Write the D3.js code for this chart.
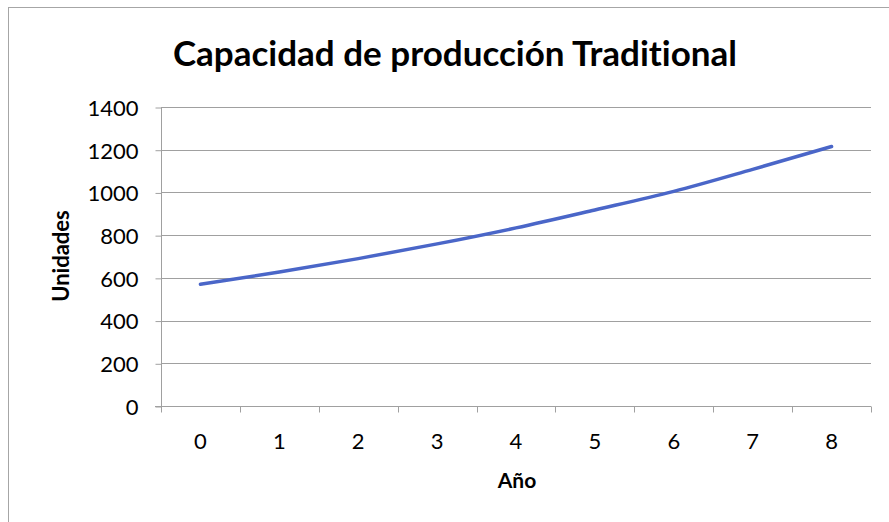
<!DOCTYPE html>
<html>
<head>
<meta charset="utf-8">
<script src="https://cdn.jsdelivr.net/npm/d3@7"></script>
<style>
  body { margin: 0; background: #fff; }
  text { font-family: Lato, "Open Sans", sans-serif; fill: #000; font-variant-ligatures: none; }
</style>
</head>
<body>
<div id="chart"></div>
<script>
const years = [0, 1, 2, 3, 4, 5, 6, 7, 8]
const units = [570, 627, 690, 759, 834, 918, 1005, 1108, 1215]
const yTicks = [0, 200, 400, 600, 800, 1000, 1200, 1400]
const title = "Capacidad de producción Traditional"
const xTitle = "Año"
const yTitle = "Unidades"

const width = 889, height = 522
const m = {top: 107, right: 18, bottom: 116, left: 161}

const svg = d3.select("#chart").append("svg")
  .attr("width", width)
  .attr("height", height)

// chart area frame
svg.append("rect")
  .attr("x", 8.5).attr("y", 7.5)
  .attr("width", 900).attr("height", 600)
  .attr("fill", "#fff")
  .attr("stroke", "#a6a6a6")

const x = d3.scaleBand()
  .domain(years)
  .range([m.left, width - m.right])

const y = d3.scaleLinear()
  .domain([0, 1400])
  .range([height - m.bottom, m.top])

// gridlines
svg.append("g")
  .selectAll("line")
  .data(yTicks)
  .join("line")
  .attr("x1", m.left).attr("x2", width - m.right)
  .attr("y1", d => Math.round(y(d)) + 0.5)
  .attr("y2", d => Math.round(y(d)) + 0.5)
  .attr("stroke", "#a0a0a0")

// y axis
const gy = svg.append("g")
  .attr("transform", `translate(${m.left + 0.5},0.5)`)
  .call(d3.axisLeft(y).tickValues(yTicks).tickFormat(d3.format("d"))
    .tickSize(6).tickPadding(17).tickSizeOuter(0))
gy.selectAll("path, line").attr("stroke", "#a0a0a0")
gy.selectAll("text").attr("font-size", 22).attr("font-family", "Lato, sans-serif").attr("dy", "0.36em")
gy.select(".domain").attr("d", `M0,${y(1400)}V${y(0)}`)

// x axis, ticks at band edges
const gx = svg.append("g")
  .attr("transform", `translate(0,${Math.round(y(0)) + 0.5})`)
gx.append("line")
  .attr("x1", m.left - 6).attr("x2", width - m.right)
  .attr("stroke", "#a0a0a0")
gx.selectAll(".edge")
  .data(years.concat([null]))
  .join("line")
  .attr("class", "edge")
  .attr("x1", (d, i) => Math.round(m.left + i * x.step()) + 0.5)
  .attr("x2", (d, i) => Math.round(m.left + i * x.step()) + 0.5)
  .attr("y1", 0).attr("y2", 6)
  .attr("stroke", "#a0a0a0")
gx.selectAll(".lbl")
  .data(years)
  .join("text")
  .attr("class", "lbl")
  .attr("x", d => x(d) + x.bandwidth() / 2)
  .attr("y", 42)
  .attr("text-anchor", "middle")
  .attr("font-size", 22)
  .text(d => d)

// line
const line = d3.line()
  .x((d, i) => x(years[i]) + x.bandwidth() / 2)
  .y(d => y(d))
  .curve(d3.curveMonotoneX)

svg.append("path")
  .datum(units)
  .attr("d", line)
  .attr("fill", "none")
  .attr("stroke", "#4a66c8")
  .attr("stroke-width", 3.5)
  .attr("stroke-linecap", "round")

// titles
svg.append("text")
  .attr("x", 455).attr("y", 66)
  .attr("text-anchor", "middle")
  .attr("font-size", 35)
  .attr("font-weight", "bold")
  .text(title)

svg.append("text")
  .attr("x", 517).attr("y", 488)
  .attr("text-anchor", "middle")
  .attr("font-size", 21)
  .attr("font-weight", "bold")
  .text(xTitle)

svg.append("text")
  .attr("transform", `translate(69,256) rotate(-90)`)
  .attr("text-anchor", "middle")
  .attr("font-size", 22)
  .attr("font-weight", "bold")
  .text(yTitle)
</script>
</body>
</html>
